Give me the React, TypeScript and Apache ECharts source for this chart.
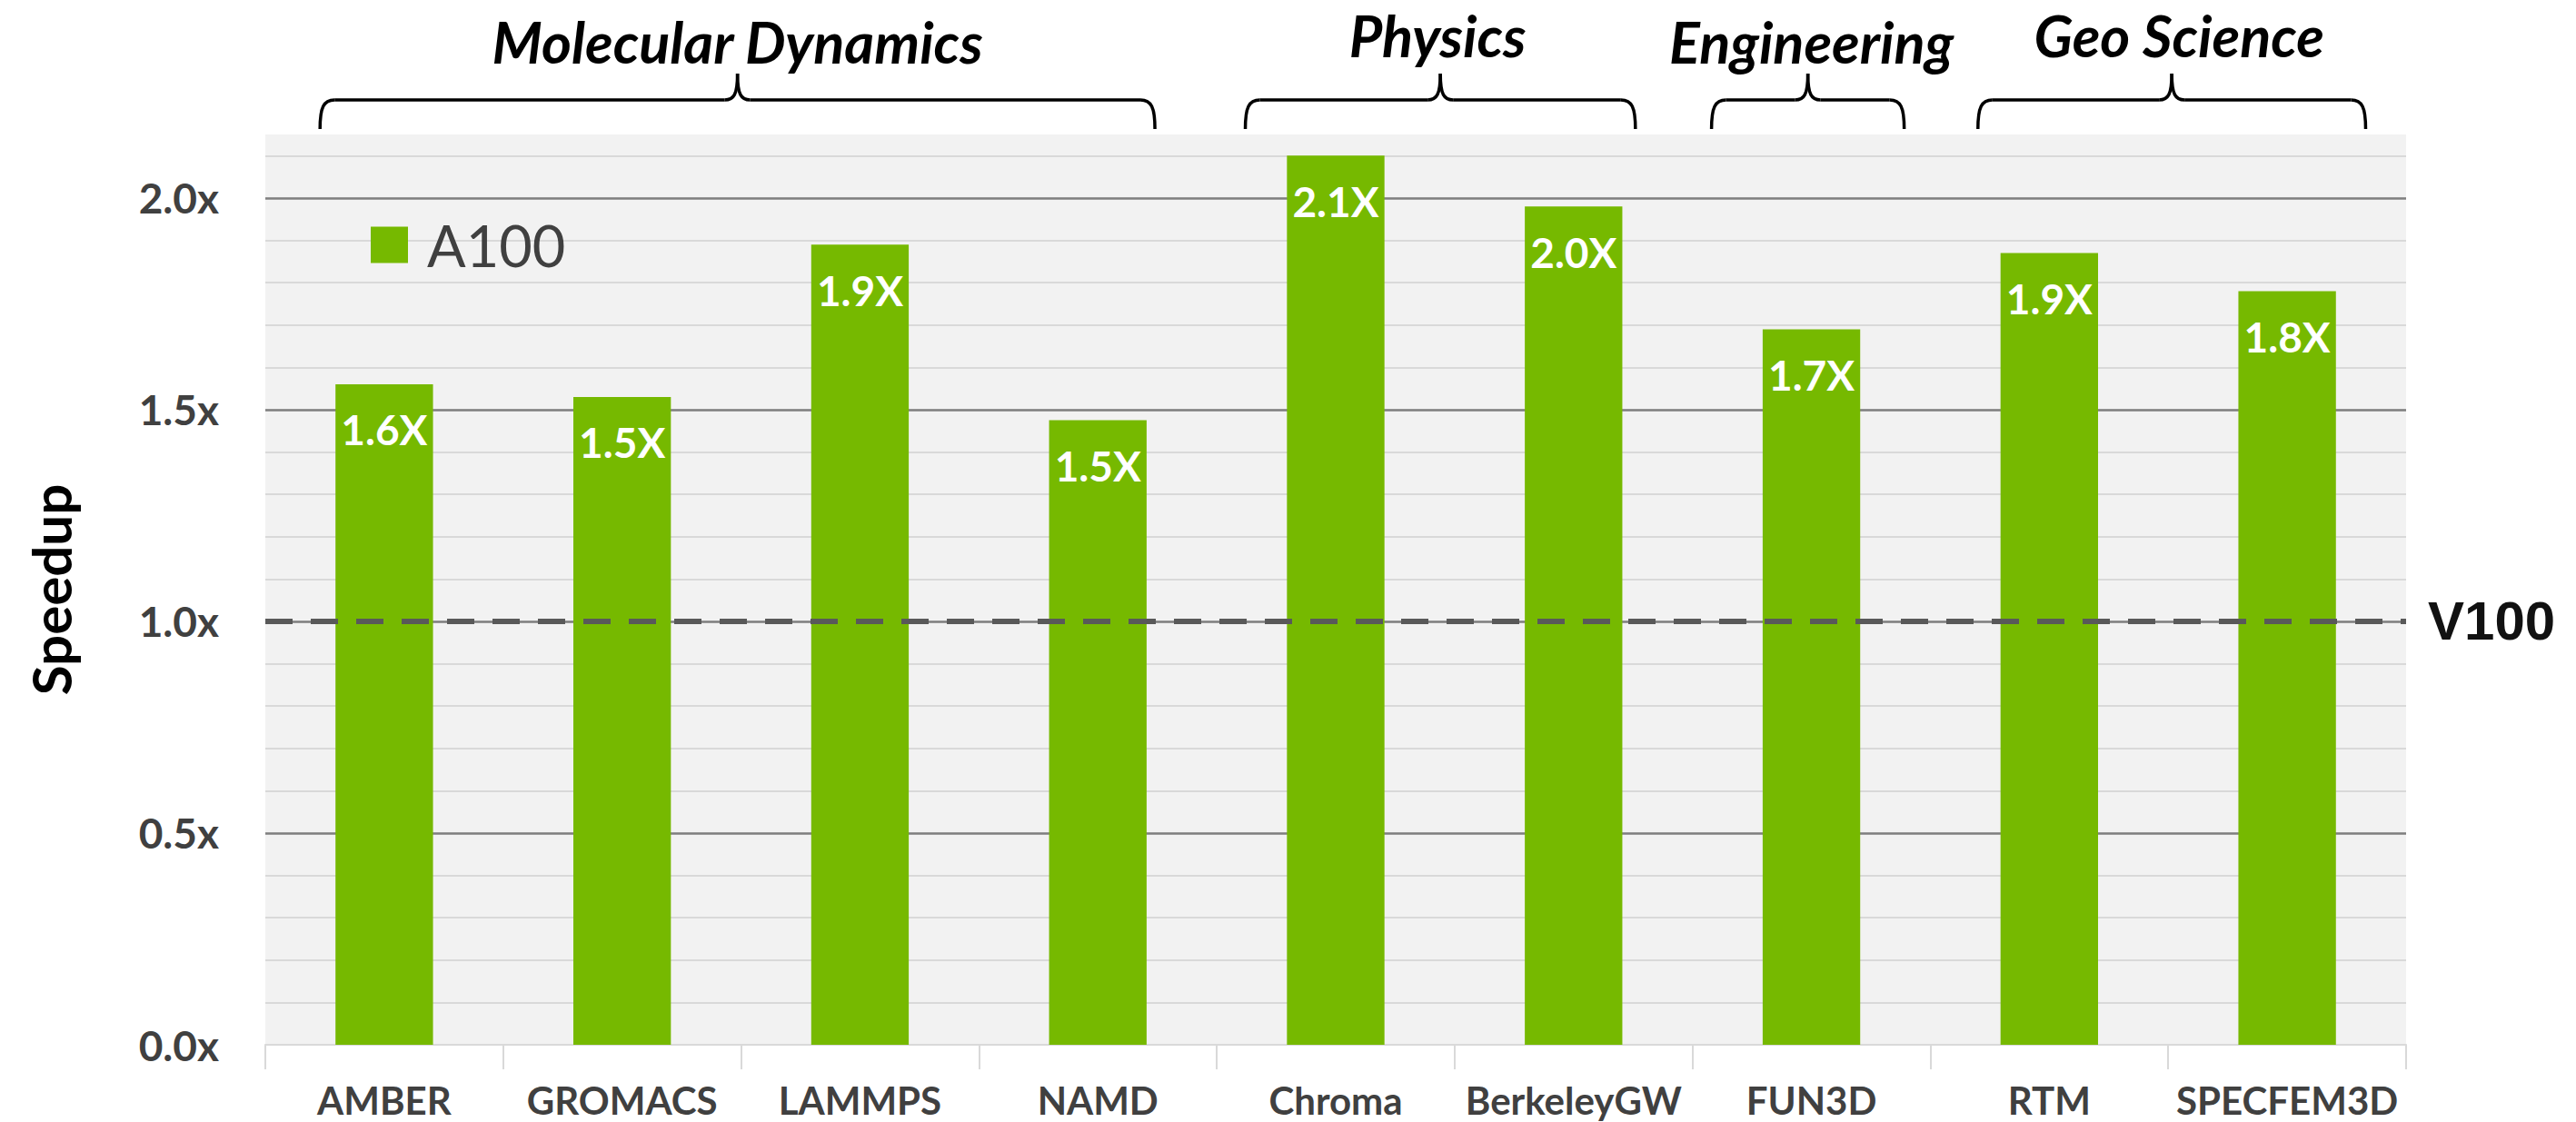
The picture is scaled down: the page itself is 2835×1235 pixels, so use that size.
import React, { useEffect, useRef } from "react";
import * as echarts from "echarts";

// ---------- data ----------
const categories = ["AMBER", "GROMACS", "LAMMPS", "NAMD", "Chroma", "BerkeleyGW", "FUN3D", "RTM", "SPECFEM3D"];
const a100Speedup = [1.56, 1.53, 1.89, 1.475, 2.1, 1.98, 1.69, 1.87, 1.78];
const seriesName = "A100";
const baselineName = "V100";
const baselineValue = 1.0;
const yMin = 0;
const yMax = 2.15;
const yMajorStep = 0.5;
const yMinorStep = 0.1;
const yAxisTitle = "Speedup";
const groupNames = ["Molecular Dynamics", "Physics", "Engineering", "Geo Science"];
const groupFirst = [0, 4, 6, 7];
const groupLast = [3, 5, 6, 8];

// ---------- layout / style ----------
const W = 2835;
const H = 1235;
const GREEN = "#76b900";
const FONT = "Lato";
const BRACE_PAD = [
  [0.27, 0.24],
  [0.38, 0.26],
  [0.42, 0.39],
  [0.3, 0.33],
];
const TITLE_Y = [45, 38, 45, 38];
const TITLE_X_SHIFT = [0, -3, 4, 8];
const BRACE_LINE_Y = 110;
const BRACE_END_Y = 142;
const BRACE_PEAK_Y = 81;
const Y_TITLE_X = 56;
const Y_TITLE_Y = 649;

function braceElements(L: number, R: number, s: object) {
  const M = (L + R) / 2;
  const y = BRACE_LINE_Y;
  const e = BRACE_END_Y;
  const p = BRACE_PEAK_Y;
  return [
    { type: "bezierCurve", shape: { x1: L, y1: e, cpx1: L, cpy1: y + 8, cpx2: L + 4, cpy2: y, x2: L + 16, y2: y }, style: s },
    { type: "line", shape: { x1: L + 16, y1: y, x2: M - 14, y2: y }, style: s },
    { type: "bezierCurve", shape: { x1: M - 14, y1: y, cpx1: M - 4, cpy1: y, cpx2: M, cpy2: y - 6, x2: M, y2: p }, style: s },
    { type: "bezierCurve", shape: { x1: M, y1: p, cpx1: M, cpy1: y - 6, cpx2: M + 4, cpy2: y, x2: M + 14, y2: y }, style: s },
    { type: "line", shape: { x1: M + 14, y1: y, x2: R - 16, y2: y }, style: s },
    { type: "bezierCurve", shape: { x1: R - 16, y1: y, cpx1: R - 4, cpy1: y, cpx2: R, cpy2: y + 8, x2: R, y2: e }, style: s },
  ];
}

export default function App() {
  const ref = useRef<HTMLDivElement>(null);

  useEffect(() => {
    if (!ref.current) return;
    const chart = echarts.init(ref.current, null, { renderer: "svg", width: W, height: H });

    const option: any = {
      animation: false,
      backgroundColor: "#ffffff",
      grid: {
        left: 292,
        right: W - 2648,
        top: 148,
        bottom: H - 1150,
        show: true,
        backgroundColor: "#f2f2f2",
        borderWidth: 0,
      },
      legend: {
        show: true,
        left: 408,
        top: 238,
        padding: 0,
        itemWidth: 41,
        itemHeight: 40,
        icon: "rect",
        data: [seriesName],
        textStyle: {
          fontFamily: FONT,
          fontSize: 63,
          color: "#404040",
          padding: [0, 0, 0, 16],
        },
      },
      xAxis: {
        type: "category",
        data: categories,
        axisLine: { show: true, lineStyle: { color: "#d9d9d9", width: 2 } },
        axisTick: { show: true, alignWithLabel: false, length: 27, lineStyle: { color: "#d9d9d9", width: 2 } },
        axisLabel: {
          fontFamily: FONT,
          fontWeight: "bold",
          fontSize: 42,
          color: "#404040",
          margin: 40,
          interval: 0,
        },
        splitLine: { show: false },
      },
      yAxis: [
        {
          type: "value",
          min: yMin,
          max: yMax,
          interval: yMajorStep,
          z: 1,
          axisLine: { show: false },
          axisTick: { show: false },
          axisLabel: {
            fontFamily: FONT,
            fontWeight: "bold",
            fontSize: 46,
            color: "#404040",
            margin: 51,
            showMaxLabel: false,
            formatter: (v: number) => (Math.abs(v / yMajorStep - Math.round(v / yMajorStep)) < 1e-6 ? v.toFixed(1) + "x" : ""),
          },
          splitLine: {
            show: true,
            showMinLine: false,
            showMaxLine: false,
            lineStyle: { color: "#7f7f7f", width: 2.5 },
          },
        },
        {
          type: "value",
          min: yMin,
          max: yMax,
          interval: yMinorStep,
          z: 0,
          position: "left",
          axisLine: { show: false },
          axisTick: { show: false },
          axisLabel: { show: false },
          splitLine: {
            show: true,
            showMinLine: false,
            showMaxLine: false,
            lineStyle: { color: "#d9d9d9", width: 2 },
          },
        },
      ],
      series: [
        {
          name: seriesName,
          type: "bar",
          data: a100Speedup,
          yAxisIndex: 0,
          barWidth: "41%",
          itemStyle: { color: GREEN },
          z: 2,
          label: {
            show: true,
            position: "insideTop",
            distance: 27,
            color: "#ffffff",
            fontFamily: FONT,
            fontWeight: "bold",
            fontSize: 46,
            formatter: (p: any) => Number(p.value).toFixed(1) + "X",
          },
          markLine: {
            silent: true,
            symbol: ["none", "none"],
            z: 5,
            data: [{ yAxis: baselineValue, name: baselineName }],
            lineStyle: { color: "#595959", width: 6, type: [30, 20] },
            label: {
              show: true,
              position: "end",
              distance: 24,
              formatter: baselineName,
              fontFamily: "Liberation Sans",
              fontWeight: "bold",
              fontSize: 60,
              color: "#111111",
            },
            emphasis: { disabled: true },
          },
        },
      ],
    };

    chart.setOption(option);

    // annotations: group braces and titles, y-axis title
    const p0 = chart.convertToPixel({ gridIndex: 0 }, [0, 0]) as number[];
    const p1 = chart.convertToPixel({ gridIndex: 0 }, [1, 0]) as number[];
    const catW = p1[0] - p0[0];
    const axisLeft = p0[0] - catW / 2;

    const lineStyle = { stroke: "#000000", lineWidth: 3.5, fill: "none" };
    const elements: any[] = [];
    groupNames.forEach((name, g) => {
      const L = axisLeft + (groupFirst[g] + 0.5 - BRACE_PAD[g][0]) * catW;
      const R = axisLeft + (groupLast[g] + 0.5 + BRACE_PAD[g][1]) * catW;
      elements.push(...braceElements(L, R, lineStyle));
      elements.push({
        type: "text",
        x: (L + R) / 2 + TITLE_X_SHIFT[g],
        y: TITLE_Y[g],
        style: {
          text: name,
          fontFamily: FONT,
          fontWeight: "bold",
          fontStyle: "italic",
          fontSize: 63,
          fill: "#000000",
          align: "center",
          verticalAlign: "middle",
          textAlign: "center",
          textVerticalAlign: "middle",
        },
      });
    });
    elements.push({
      type: "text",
      x: Y_TITLE_X,
      y: Y_TITLE_Y,
      rotation: Math.PI / 2,
      style: {
        text: yAxisTitle,
        fontFamily: FONT,
        fontWeight: "bold",
        fontSize: 60,
        fill: "#000000",
        align: "center",
        verticalAlign: "middle",
        textAlign: "center",
        textVerticalAlign: "middle",
      },
    });
    chart.setOption({ graphic: { elements } });

    return () => {
      chart.dispose();
    };
  }, []);

  return (
    <div
      ref={ref}
      style={{ position: "absolute", left: 0, top: 0, width: W, height: H, background: "#ffffff" }}
    />
  );
}
